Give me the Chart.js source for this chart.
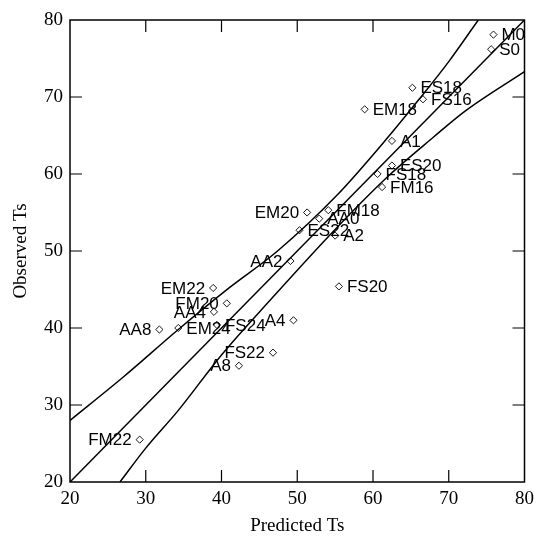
<!DOCTYPE html>
<html>
<head>
<meta charset="utf-8">
<script src="https://cdn.jsdelivr.net/npm/chart.js@4.4.1/dist/chart.umd.min.js"></script>
<style>
  html, body { margin: 0; padding: 0; background: #ffffff; }
  #wrap { width: 540px; height: 537px; }
</style>
</head>
<body>
<div id="wrap"><canvas id="c" width="540" height="537"></canvas></div>
<script>
// Sample names and values (Predicted Ts, Observed Ts)
const sampleNames = ['M0','S0','ES18','FS16','EM18','A1','ES20','FS18','FM16','EM20','FM18','AA0','ES22','A2','AA2','FS20','EM22','FM20','AA4','AA8','EM24','FS24','A4','FS22','A8','FM22'];
const predictedTs = [75.9, 75.6, 65.2, 66.6, 58.9, 62.5, 62.5, 60.6, 61.2, 51.3, 54.1, 52.9, 50.3, 55.0, 49.1, 55.5, 38.9, 40.7, 39.0, 31.8, 34.3, 39.4, 49.5, 46.8, 42.3, 29.2];
const observedTs  = [78.1, 76.2, 71.2, 69.7, 68.4, 64.3, 61.1, 60.0, 58.3, 55.0, 55.3, 54.2, 52.7, 52.0, 48.7, 45.4, 45.2, 43.2, 42.1, 39.8, 40.0, 40.4, 41.0, 36.8, 35.1, 25.5];
// which side of the marker each name is written on
const labelSide = ['r','r','r','r','r','r','r','r','r','l','r','r','r','r','l','r','l','l','l','l','r','r','l','l','l','l'];

// Reference lines
const idealX = [20, 80];
const idealY = [20, 80];
const upperBandX = [20.0, 27.0, 34.3, 41.0, 47.4, 55.2, 62.0, 66.0, 70.0, 73.9];
const upperBandY = [28.0, 33.6, 39.8, 45.2, 50.0, 57.2, 64.8, 69.6, 74.6, 80.0];
const lowerBandX = [26.6, 30.0, 34.3, 40.0, 46.5, 55.0, 62.1, 68.0, 72.2, 80.0];
const lowerBandY = [20.0, 24.4, 29.3, 36.5, 43.7, 52.8, 59.8, 64.8, 68.2, 73.3];

// Axis ticks
const axisTicks = [20, 30, 40, 50, 60, 70, 80];

const pts = (xs, ys) => xs.map((x, i) => ({ x: x, y: ys[i] }));

const frameAndLabels = {
  id: 'frameAndLabels',
  afterDatasetsDraw(chart) {
    const ctx = chart.ctx;
    const a = chart.chartArea;
    const xs = chart.scales.x, ys = chart.scales.y;
    ctx.save();
    // frame
    ctx.strokeStyle = '#000';
    ctx.lineWidth = 1.5;
    ctx.strokeRect(a.left, a.top, a.right - a.left, a.bottom - a.top);
    // inward ticks on all four sides
    const tl = 12;
    ctx.lineWidth = 1.2;
    ctx.beginPath();
    axisTicks.forEach(v => {
      if (v === axisTicks[0] || v === axisTicks[axisTicks.length - 1]) return;
      const px = xs.getPixelForValue(v);
      ctx.moveTo(px, a.bottom); ctx.lineTo(px, a.bottom - tl);
      ctx.moveTo(px, a.top); ctx.lineTo(px, a.top + tl);
      const py = ys.getPixelForValue(v);
      ctx.moveTo(a.left, py); ctx.lineTo(a.left + tl, py);
      ctx.moveTo(a.right, py); ctx.lineTo(a.right - tl, py);
    });
    ctx.stroke();
    // point names
    const meta = chart.getDatasetMeta(3);
    ctx.fillStyle = '#000';
    ctx.font = '17px "Liberation Sans", Arial, sans-serif';
    ctx.textBaseline = 'middle';
    meta.data.forEach((el, i) => {
      const side = labelSide[i];
      ctx.textAlign = side === 'r' ? 'left' : 'right';
      const dx = side === 'r' ? 8 : -8;
      ctx.fillText(sampleNames[i], el.x + dx, el.y + 1);
    });
    ctx.restore();
  }
};

const lineStyle = {
  type: 'line', showLine: true, borderColor: '#000', borderWidth: 1.5,
  pointRadius: 0, pointHoverRadius: 0, fill: false
};

new Chart(document.getElementById('c'), {
  type: 'scatter',
  data: {
    datasets: [
      Object.assign({ label: '1:1', data: pts(idealX, idealY), tension: 0 }, lineStyle),
      Object.assign({ label: 'upper', data: pts(upperBandX, upperBandY), cubicInterpolationMode: 'monotone' }, lineStyle),
      Object.assign({ label: 'lower', data: pts(lowerBandX, lowerBandY), cubicInterpolationMode: 'monotone' }, lineStyle),
      {
        label: 'Ts', data: pts(predictedTs, observedTs),
        pointStyle: 'rectRot', pointRadius: 3.6, pointBorderWidth: 0.9,
        pointBorderColor: '#000', pointBackgroundColor: '#fff', showLine: false
      }
    ]
  },
  options: {
    responsive: false,
    animation: false,
    devicePixelRatio: 1,
    layout: { padding: { top: 20, right: 10, left: 0, bottom: 0 } },
    plugins: { legend: { display: false }, tooltip: { enabled: false } },
    scales: {
      x: {
        type: 'linear', min: 20, max: 80,
        afterFit(s) { s.height = 55; },
        afterBuildTicks(s) { s.ticks = axisTicks.map(v => ({ value: v })); },
        grid: { display: false, drawTicks: false },
        border: { display: false },
        ticks: { padding: 6, color: '#000', font: { family: '"Liberation Serif", "Times New Roman", serif', size: 19 } },
        title: { display: true, text: 'Predicted Ts', color: '#000', padding: { top: 0, bottom: 0 },
                 font: { family: '"Liberation Serif", "Times New Roman", serif', size: 19 } }
      },
      y: {
        type: 'linear', min: 20, max: 80,
        afterFit(s) { s.width = 70; },
        afterBuildTicks(s) { s.ticks = axisTicks.map(v => ({ value: v })); },
        grid: { display: false, drawTicks: false },
        border: { display: false },
        ticks: { padding: 7, color: '#000', font: { family: '"Liberation Serif", "Times New Roman", serif', size: 19 } },
        title: { display: true, text: 'Observed Ts', color: '#000', padding: { top: 10, bottom: 0 },
                 font: { family: '"Liberation Serif", "Times New Roman", serif', size: 19 } }
      }
    }
  },
  plugins: [frameAndLabels]
});
</script>
</body>
</html>
